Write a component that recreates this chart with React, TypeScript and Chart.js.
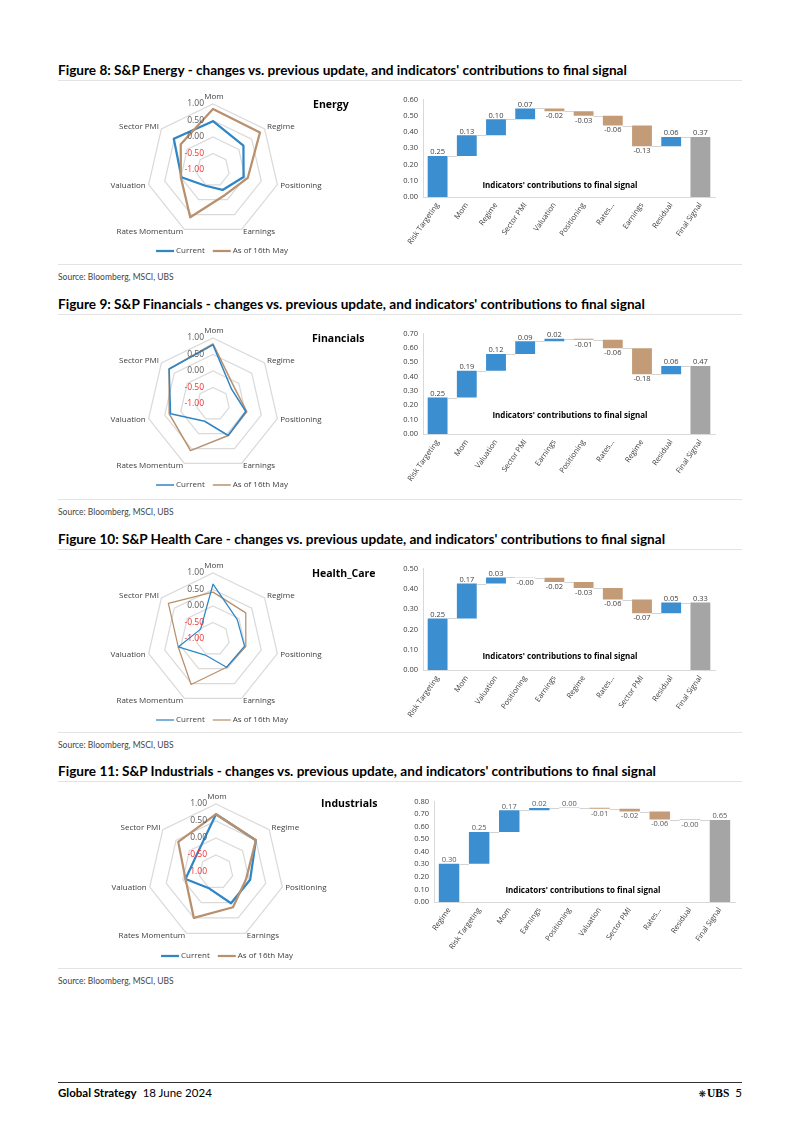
import React, { useEffect, useRef } from "react";
import { Chart, registerables } from "chart.js";

Chart.register(...registerables);

// ---------- data ----------
const radarAxes = ["Mom", "Regime", "Positioning", "Earnings", "Rates Momentum", "Valuation", "Sector PMI"];
const radarTicks = [1, 0.5, 0, -0.5, -1];
const legendLabels = ["Current", "As of 16th May"];

const energyCurrent = [0.48, 0.18, -0.05, -0.33, -0.47, -0.02, 0.52];
const energyPrevious = [0.85, 0.82, 0.08, -0.16, 0.59, 0.0, 0.25];
const financialsCurrent = [0.79, -0.28, 0.02, 0.06, -0.42, 0.32, 0.7];
const financialsPrevious = [0.82, -0.18, 0.05, 0.06, 0.57, 0.36, 0.7];
const healthCareCurrent = [0.66, -0.06, -0.02, -0.05, -0.46, 0.08, -0.52];
const healthCarePrevious = [0.42, 0.27, 0.02, -0.05, 0.53, 0.08, 0.73];
const industrialsCurrent = [0.7, 0.5, 0.03, 0.02, -0.48, -0.08, -0.25];
const industrialsPrevious = [0.7, 0.5, -0.09, 0.15, 0.5, -0.08, 0.42];

const energyIndicators = ["Risk Targeting", "Mom", "Regime", "Sector PMI", "Valuation", "Positioning", "Rates...", "Earnings", "Residual", "Final Signal"];
const energyContributions = [0.253, 0.127, 0.099, 0.066, -0.017, -0.028, -0.06, -0.128, 0.058, 0.37];
const financialsIndicators = ["Risk Targeting", "Mom", "Valuation", "Sector PMI", "Earnings", "Positioning", "Rates...", "Regime", "Residual", "Final Signal"];
const financialsContributions = [0.254, 0.186, 0.118, 0.088, 0.018, -0.008, -0.058, -0.182, 0.057, 0.474];
const healthCareIndicators = ["Risk Targeting", "Mom", "Valuation", "Positioning", "Earnings", "Regime", "Rates...", "Sector PMI", "Residual", "Final Signal"];
const healthCareContributions = [0.254, 0.172, 0.03, -0.002, -0.02, -0.03, -0.057, -0.068, 0.053, 0.332];
const industrialsIndicators = ["Regime", "Risk Targeting", "Mom", "Earnings", "Positioning", "Valuation", "Sector PMI", "Rates...", "Residual", "Final Signal"];
const industrialsContributions = [0.304, 0.254, 0.172, 0.018, 0.002, -0.008, -0.022, -0.064, -0.004, 0.652];

// ---------- styles ----------
const CHART_FONT = "'Open Sans', 'Noto Sans', sans-serif";
const PAGE_FONT = "Lato, 'Open Sans', sans-serif";
const RADAR_BLUE = "#2E86C6";
const RADAR_BROWN = "#B8906E";
const BAR_BLUE = "#3B8ED0";
const BAR_BROWN = "#C39B77";
const BAR_GRAY = "#A5A5A5";

type RadarProps = {
  cx: number; cy: number; r: number;
  left: number; top: number; width: number; height: number;
  current: number[]; previous: number[];
  lw: number; brownOnTop: boolean; legendDx: number; legendDy: number;
};

function RadarChart(p: RadarProps) {
  const ref = useRef<HTMLCanvasElement>(null);
  useEffect(() => {
    const textPlugin = {
      id: "radarText",
      afterDraw(chart: any) {
        const s = chart.scales.r;
        const ctx = chart.ctx;
        ctx.save();
        ctx.font = `8px ${CHART_FONT}`;
        ctx.fillStyle = "#404040";
        radarAxes.forEach((lab, i) => {
          const a = s.getIndexAngle(i);
          const pt = s.getPointPosition(i, s.drawingArea + 3);
          const sn = Math.sin(a);
          if (Math.abs(sn) < 0.05) {
            ctx.textAlign = "center";
            ctx.textBaseline = "alphabetic";
            ctx.fillText(lab, pt.x + 1, pt.y - 2);
          } else {
            ctx.textAlign = sn > 0 ? "left" : "right";
            ctx.textBaseline = "middle";
            ctx.fillText(lab, pt.x, pt.y);
          }
        });
        ctx.textAlign = "right";
        ctx.textBaseline = "middle";
        ctx.font = `8.5px ${CHART_FONT}`;
        radarTicks.forEach((v) => {
          const d = s.getDistanceFromCenterForValue(v);
          ctx.fillStyle = v < 0 ? "#F03030" : "#595959";
          ctx.fillText(v.toFixed(2), s.xCenter - 9, s.yCenter - d);
        });
        // legend
        ctx.font = `8px ${CHART_FONT}`;
        const colors = [RADAR_BLUE, RADAR_BROWN];
        const lineLen = 18, gap = 2, between = 8;
        const widths = legendLabels.map((t) => ctx.measureText(t).width);
        const total = lineLen * 2 + gap * 2 + widths[0] + widths[1] + between;
        let x = s.xCenter + p.legendDx - total / 2;
        const y = s.yCenter + p.legendDy;
        legendLabels.forEach((t, i) => {
          ctx.strokeStyle = colors[i];
          ctx.lineWidth = p.lw;
          ctx.beginPath();
          ctx.moveTo(x, y);
          ctx.lineTo(x + lineLen, y);
          ctx.stroke();
          x += lineLen + gap;
          ctx.fillStyle = "#404040";
          ctx.textAlign = "left";
          ctx.fillText(t, x, y);
          x += widths[i] + between;
        });
        ctx.restore();
      },
    };
    const chart = new Chart(ref.current as HTMLCanvasElement, {
      type: "radar",
      data: {
        labels: radarAxes,
        datasets: [
          { label: legendLabels[0], data: p.current, borderColor: RADAR_BLUE, backgroundColor: RADAR_BLUE, borderWidth: p.lw, pointRadius: 0, fill: false, order: p.brownOnTop ? 1 : 0 },
          { label: legendLabels[1], data: p.previous, borderColor: RADAR_BROWN, backgroundColor: RADAR_BROWN, borderWidth: p.lw, pointRadius: 0, fill: false, order: p.brownOnTop ? 0 : 1 },
        ],
      },
      options: {
        responsive: false,
        animation: false,
        layout: {
          padding: {
            left: p.cx - p.r - p.left,
            right: p.left + p.width - p.cx - p.r,
            top: p.cy - p.r - p.top,
            bottom: p.top + p.height - p.cy - p.r,
          },
        },
        plugins: { legend: { display: false }, tooltip: { enabled: false } },
        elements: { line: { tension: 0, borderJoinStyle: "round" } },
        scales: {
          r: {
            min: -1,
            max: 1,
            ticks: { display: false, stepSize: 0.5 },
            pointLabels: { display: false },
            angleLines: { display: false },
            grid: { color: "#DADADA", lineWidth: 1.25 },
          },
        },
      } as any,
      plugins: [textPlugin],
    });
    return () => chart.destroy();
  }, []);
  return (
    <canvas
      ref={ref}
      width={p.width}
      height={p.height}
      style={{ position: "absolute", left: p.left, top: p.top, width: p.width, height: p.height }}
    />
  );
}

type WfProps = {
  left: number; top: number; width: number; height: number;
  plotLeft: number; plotRight: number; plotTop: number; plotBottom: number;
  yMax: number; yStep: number;
  categories: string[]; values: number[]; labelColor: string;
};

function Waterfall(p: WfProps) {
  const ref = useRef<HTMLCanvasElement>(null);
  useEffect(() => {
    const n = p.values.length;
    let run = 0;
    const bars = p.values.map((v, i) => {
      if (i === n - 1) return [0, v];
      const b = [run, run + v];
      run += v;
      return b;
    });
    const colors = p.values.map((v, i) => (i === n - 1 ? BAR_GRAY : v >= 0 ? BAR_BLUE : BAR_BROWN));
    const wfPlugin = {
      id: "wfExtras",
      afterDatasetsDraw(chart: any) {
        const ctx = chart.ctx;
        const meta = chart.getDatasetMeta(0);
        const ys = chart.scales.y;
        ctx.save();
        meta.data.forEach((el: any, i: number) => {
          const { x, y, base, width } = el.getProps(["x", "y", "base", "width"], true);
          if (i < n - 1) {
            const next = meta.data[i + 1];
            const lvl = Math.round(ys.getPixelForValue(bars[i][1])) + 0.5;
            ctx.strokeStyle = "#C8C8C8";
            ctx.lineWidth = 0.8;
            ctx.beginPath();
            ctx.moveTo(x + width / 2, lvl);
            ctx.lineTo(next.x - next.width / 2, lvl);
            ctx.stroke();
          }
          const v = p.values[i];
          const topY = Math.min(y, base);
          const botY = Math.max(y, base);
          ctx.fillStyle = p.labelColor;
          ctx.font = `7.5px ${CHART_FONT}`;
          ctx.textAlign = "center";
          if (v >= 0) {
            ctx.textBaseline = "bottom";
            ctx.fillText(v.toFixed(2), x, topY);
          } else {
            ctx.textBaseline = "top";
            ctx.fillText(v.toFixed(2), x, botY + 1);
          }
        });
        ctx.restore();
      },
    };
    const yAxisW = p.plotLeft - p.left;
    const xAxisH = p.top + p.height - p.plotBottom;
    const chart = new Chart(ref.current as HTMLCanvasElement, {
      type: "bar",
      data: {
        labels: p.categories,
        datasets: [
          { data: bars as any, backgroundColor: colors, borderWidth: 0, barPercentage: 0.68, categoryPercentage: 1 },
        ],
      },
      options: {
        responsive: false,
        animation: false,
        layout: { padding: { top: p.plotTop - p.top, right: p.left + p.width - p.plotRight, left: 0, bottom: 0 } },
        plugins: { legend: { display: false }, tooltip: { enabled: false } },
        scales: {
          x: {
            grid: { display: false, drawTicks: false },
            border: { display: true, color: "#D9D9D9" },
            ticks: { font: { size: 7.5, family: CHART_FONT }, color: "#404040", maxRotation: 55, minRotation: 55, autoSkip: false, padding: 4 },
            afterFit: (s: any) => { s.height = xAxisH; },
          },
          y: {
            min: 0,
            max: p.yMax,
            grid: { display: false, drawTicks: false },
            border: { display: true, color: "#D9D9D9" },
            ticks: { stepSize: p.yStep, font: { size: 7.5, family: CHART_FONT }, color: "#404040", padding: 5, callback: (v: any) => Number(v).toFixed(2) },
            afterFit: (s: any) => { s.width = yAxisW; },
          },
        },
      } as any,
      plugins: [wfPlugin],
    });
    return () => chart.destroy();
  }, []);
  return (
    <canvas
      ref={ref}
      width={p.width}
      height={p.height}
      style={{ position: "absolute", left: p.left, top: p.top, width: p.width, height: p.height }}
    />
  );
}

function Txt(props: { x: number; y: number; size: number; bold?: boolean; color?: string; family?: string; center?: boolean; children: any }) {
  const lh = Math.round(props.size * 1.4);
  return (
    <div
      style={{
        position: "absolute",
        left: props.x,
        top: props.y - lh / 2,
        fontSize: props.size,
        lineHeight: `${lh}px`,
        fontWeight: props.bold ? 700 : 400,
        color: props.color || "#000",
        fontFamily: props.family || PAGE_FONT,
        whiteSpace: "nowrap",
        transform: props.center ? "translateX(-50%)" : undefined,
      }}
    >
      {props.children}
    </div>
  );
}

function HLine(props: { y: number; color: string; x1?: number; x2?: number }) {
  const x1 = props.x1 ?? 58;
  const x2 = props.x2 ?? 742;
  return <div style={{ position: "absolute", left: x1, top: props.y, width: x2 - x1, height: 1, background: props.color }} />;
}

type FigSpec = {
  title: string; name: string; nameX: number; dy: number;
  cx: number; cy: number; r: number; lw: number; brownOnTop: boolean; legendDx: number; legendDy: number;
  current: number[]; previous: number[];
  wf: WfProps; wfTitleX: number; wfTitleY: number; sourceLineY: number;
};

const figures: FigSpec[] = [
  {
    title: "Figure 8: S&P Energy - changes vs. previous update, and indicators' contributions to final signal",
    name: "Energy", nameX: 313, dy: 0,
    cx: 213, cy: 170, r: 66, lw: 2.25, brownOnTop: true, legendDx: 9, legendDy: 81,
    current: energyCurrent, previous: energyPrevious,
    wf: { left: 370, top: 90, width: 350, height: 170, plotLeft: 423, plotRight: 715, plotTop: 98, plotBottom: 197, yMax: 0.6, yStep: 0.1, categories: energyIndicators, values: energyContributions, labelColor: "#404040" },
    wfTitleX: 560, wfTitleY: 184, sourceLineY: 264,
  },
  {
    title: "Figure 9: S&P Financials - changes vs. previous update, and indicators' contributions to final signal",
    name: "Financials", nameX: 312, dy: 234,
    cx: 213, cy: 404, r: 66, lw: 1.5, brownOnTop: false, legendDx: 9, legendDy: 81,
    current: financialsCurrent, previous: financialsPrevious,
    wf: { left: 370, top: 324, width: 350, height: 170, plotLeft: 423, plotRight: 715, plotTop: 332, plotBottom: 434, yMax: 0.7, yStep: 0.1, categories: financialsIndicators, values: financialsContributions, labelColor: "#404040" },
    wfTitleX: 570, wfTitleY: 414, sourceLineY: 499,
  },
  {
    title: "Figure 10: S&P Health Care - changes vs. previous update, and indicators' contributions to final signal",
    name: "Health_Care", nameX: 312, dy: 469,
    cx: 213, cy: 639, r: 66, lw: 1.25, brownOnTop: false, legendDx: 9, legendDy: 81,
    current: healthCareCurrent, previous: healthCarePrevious,
    wf: { left: 370, top: 559, width: 350, height: 170, plotLeft: 423, plotRight: 715, plotTop: 567, plotBottom: 670, yMax: 0.5, yStep: 0.05, categories: healthCareIndicators, values: healthCareContributions, labelColor: "#404040" },
    wfTitleX: 560, wfTitleY: 655, sourceLineY: 732,
  },
  {
    title: "Figure 11: S&P Industrials - changes vs. previous update, and indicators' contributions to final signal",
    name: "Industrials", nameX: 321, dy: 701,
    cx: 216, cy: 872, r: 68, lw: 2.25, brownOnTop: true, legendDx: 11, legendDy: 84,
    current: industrialsCurrent, previous: industrialsPrevious,
    wf: { left: 378, top: 792, width: 360, height: 170, plotLeft: 434, plotRight: 735, plotTop: 800, plotBottom: 902, yMax: 0.8, yStep: 0.1, categories: industrialsIndicators, values: industrialsContributions, labelColor: "#595959" },
    wfTitleX: 583, wfTitleY: 889, sourceLineY: 968,
  },
];

export default function App() {
  return (
    <div style={{ position: "absolute", left: 0, top: 0, width: 802, height: 1134, background: "#fff", overflow: "hidden" }}>
      {figures.map((f, i) => {
        const titleY = 70 + f.dy;
        return (
          <React.Fragment key={i}>
            <Txt x={58} y={titleY} size={13.6} bold>{f.title}</Txt>
            <HLine y={titleY + 10} color="#E3E3E3" />
            <RadarChart
              cx={f.cx} cy={f.cy} r={f.r}
              left={100} top={f.cy - 85} width={240} height={178}
              current={f.current} previous={f.previous}
              lw={f.lw} brownOnTop={f.brownOnTop} legendDx={f.legendDx} legendDy={f.legendDy}
            />
            <Txt x={f.nameX} y={104 + f.dy + (i === 3 ? -2 : 0)} size={10.5} bold family={CHART_FONT}>{f.name}</Txt>
            <Waterfall {...f.wf} />
            <Txt x={f.wfTitleX} y={f.wfTitleY} size={8} bold center family={CHART_FONT}>Indicators' contributions to final signal</Txt>
            <HLine y={f.sourceLineY} color="#E3E3E3" />
            <Txt x={58} y={f.sourceLineY + 13} size={8.5} color="#444">Source: Bloomberg, MSCI, UBS</Txt>
          </React.Fragment>
        );
      })}
      <HLine y={1082} color="#333" />
      <div style={{ position: "absolute", left: 58, top: 1085, fontFamily: PAGE_FONT, fontSize: 11.5, lineHeight: "16px", whiteSpace: "nowrap", color: "#000" }}>
        <span style={{ fontWeight: 700 }}>Global Strategy</span>
        <span style={{ marginLeft: 6 }}>18 June 2024</span>
      </div>
      <div style={{ position: "absolute", right: 60, top: 1085, fontSize: 11.5, lineHeight: "16px", whiteSpace: "nowrap", color: "#000" }}>
        <span style={{ fontFamily: "'DejaVu Sans', sans-serif", fontSize: 9, marginRight: 1 }}>❋</span>
        <span style={{ fontFamily: "'Liberation Serif', serif", fontWeight: 700 }}>UBS</span>
        <span style={{ fontFamily: PAGE_FONT, marginLeft: 6 }}>5</span>
      </div>
    </div>
  );
}
